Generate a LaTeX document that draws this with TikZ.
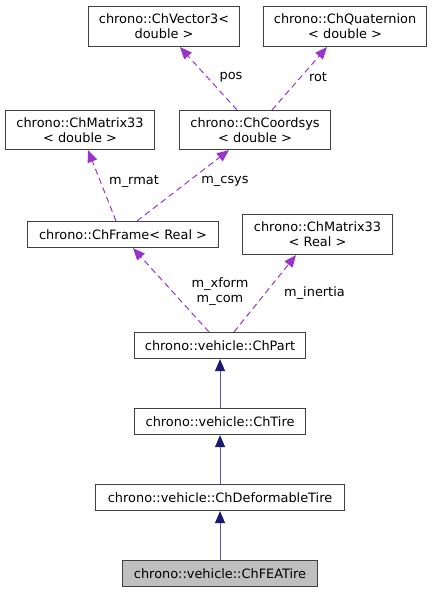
\documentclass[tikz,border=0pt]{standalone}
\usepackage{fontspec}
\setmainfont{DejaVu Sans}
\usetikzlibrary{arrows.meta,calc}
\definecolor{usecol}{HTML}{9A32CD}
\definecolor{inhcol}{HTML}{191970}
\definecolor{inhline}{HTML}{5A5AA0}
\definecolor{boxcol}{HTML}{404040}
\begin{document}
\begin{tikzpicture}[x=1pt,y=-1pt,
  cls/.style={draw=boxcol,line width=1.1pt,fill=white,inner sep=0pt,font=\fontsize{12.9}{15}\selectfont,align=center,anchor=north west},
  use/.style={draw=usecol,dash pattern=on 6pt off 4pt,line width=1pt,-{Triangle[length=12pt,width=10pt,fill=usecol]}},
  inh/.style={draw=inhline,line width=1pt,-{Triangle[length=12pt,width=10pt,color=inhcol,fill=inhcol]}},
  lbl/.style={font=\fontsize{12.9}{15}\selectfont,align=center,inner sep=0pt}]
\useasboundingbox (0,0) rectangle (432,592);
\node[cls,minimum width=151pt,minimum height=40pt] (v3) at (88,6) {chrono::ChVector3<\\double >};
\node[cls,minimum width=163pt,minimum height=40pt] (q) at (263,6) {chrono::ChQuaternion\\< double >};
\node[cls,minimum width=149pt,minimum height=39pt] (m33d) at (5,110) {chrono::ChMatrix33\\< double >};
\node[cls,minimum width=151pt,minimum height=39pt] (cs) at (179,110) {chrono::ChCoordsys\\< double >};
\node[cls,minimum width=191pt,minimum height=26pt] (fr) at (27,221) {chrono::ChFrame< Real >};
\node[cls,minimum width=150pt,minimum height=40pt] (m33r) at (242,214) {chrono::ChMatrix33\\< Real >};
\node[cls,minimum width=171pt,minimum height=26pt] (part) at (134,332) {chrono::vehicle::ChPart};
\node[cls,minimum width=171pt,minimum height=26pt] (tire) at (134,408) {chrono::vehicle::ChTire};
\node[cls,minimum width=249pt,minimum height=26pt] (def) at (95,484) {chrono::vehicle::ChDeformableTire};
\node[cls,fill=black!25,minimum width=195pt,minimum height=26pt] (fea) at (122,560) {chrono::vehicle::ChFEATire};

\draw[use] ($(cs.north west)+(58,0)$) -- ($(v3.south west)+(92,0)$);
\draw[use] ($(cs.north west)+(93,0)$) -- ($(q.south west)+(64,0)$);
\draw[use] ($(fr.north west)+(89,0)$) -- ($(m33d.south west)+(83,0)$);
\draw[use] ($(fr.north west)+(110,0)$) -- ($(cs.south west)+(50,0)$);
\draw[use] ($(part.north west)+(75,0)$) -- ($(fr.south west)+(106,0)$);
\draw[use] ($(part.north west)+(100,0)$) -- ($(m33r.south west)+(54,0)$);
\draw[inh] (tire.north) -- (part.south);
\draw[inh] (def.north) -- (tire.south);
\draw[inh] (fea.north) -- (def.south);

\node[lbl] (lpos) at (231,77) {pos};
\node[lbl] (lrot) at (318,77) {rot};
\node[lbl] (lrmat) at (134,181) {m\_rmat};
\node[lbl] (lcsys) at (225,181) {m\_csys};
\node[lbl] (lxf) at (220,292) {m\_xform\\m\_com};
\node[lbl] (lin) at (314.5,293) {m\_inertia};
\end{tikzpicture}
\end{document}
